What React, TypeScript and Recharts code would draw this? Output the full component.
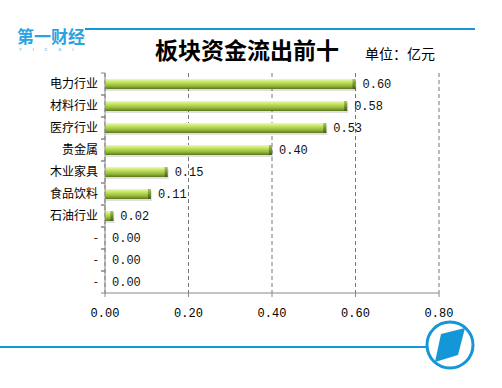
import { BarChart, Bar, XAxis, YAxis, CartesianGrid, LabelList } from 'recharts';

const sectors = ['电力行业', '材料行业', '医疗行业', '贵金属', '木业家具', '食品饮料', '石油行业', '-', '-', '-'];
const outflow = [0.6, 0.58, 0.53, 0.4, 0.15, 0.11, 0.02, 0, 0, 0];
const xTicks = [0, 0.2, 0.4, 0.6, 0.8];

const data = sectors.map((name, i) => ({ id: i, name, value: outflow[i] }));

const ROW = 22;
const BLUE = '#1496d8';

function SectorTick(props: any) {
    const { x, y, payload } = props;
    const axisX = x + 7;
    const label = sectors[payload.value] ?? '';
    return (
        <g>
            <line x1={axisX - 4} x2={axisX} y1={y - ROW / 2} y2={y - ROW / 2} stroke="#888" />
            <line x1={axisX - 4} x2={axisX} y1={y + ROW / 2} y2={y + ROW / 2} stroke="#888" />
            <text x={x} y={y} dy={4} textAnchor="end" fontSize={12} fill="#000" fontFamily="'Noto Sans CJK SC', sans-serif">
                {label}
            </text>
        </g>
    );
}

function TubeBar(props: any) {
    const { x, y, width, height } = props;
    if (!width || width <= 0) return null;
    const cap = Math.min(3, width);
    return (
        <g>
            <rect x={x + 1} y={y + 2} width={width} height={height} fill="rgba(0,0,0,0.12)" />
            <rect x={x} y={y} width={width} height={height} fill="url(#tubeGrad)" />
            <rect x={x + width - cap} y={y} width={cap} height={height} fill="url(#capGrad)" />
        </g>
    );
}

export default function App() {
    return (
        <div style={{ position: 'absolute', left: 0, top: 0, width: 502, height: 388, background: '#fff' }}>
            <svg width={502} height={388} style={{ position: 'absolute', left: 0, top: 0 }}>
                <line x1={85} x2={475} y1={29} y2={29} stroke={BLUE} strokeWidth={2} />
                <text x={17} y={43} fontSize={17} fontWeight="bold" fill="#2aa3e0" fontFamily="'Noto Sans CJK SC', sans-serif">
                    第一财经
                </text>
                <text x={19} y={51} fontSize={4} fill="#2aa3e0" fontFamily="'DejaVu Sans', sans-serif" letterSpacing={11}>
                    YICAI
                </text>
                <text x={247} y={59} textAnchor="middle" fontSize={23} fontWeight="bold" fill="#000" fontFamily="'Noto Sans CJK SC', sans-serif">
                    板块资金流出前十
                </text>
                <text x={365} y={59} fontSize={14} fill="#000" fontFamily="'Noto Sans CJK SC', sans-serif">
                    单位：亿元
                </text>
                <line x1={0} x2={427} y1={347} y2={347} stroke={BLUE} strokeWidth={2} />
                <circle cx={450} cy={345} r={23} fill="#fff" stroke={BLUE} strokeWidth={3} />
                <polygon points="441,334 465,328 458,355 435,362" fill={BLUE} />
            </svg>
            <div style={{ position: 'absolute', left: 0, top: 0 }}>
                <BarChart
                    width={502}
                    height={388}
                    data={data}
                    layout="vertical"
                    margin={{ top: 73, right: 63, bottom: 65, left: 0 }}
                    barCategoryGap={0}
                >
                    <defs>
                        <linearGradient id="tubeGrad" x1="0" y1="0" x2="0" y2="1">
                            <stop offset="0%" stopColor="#eef9b4" />
                            <stop offset="35%" stopColor="#bfe05a" />
                            <stop offset="70%" stopColor="#93b83a" />
                            <stop offset="100%" stopColor="#5c7620" />
                        </linearGradient>
                        <linearGradient id="capGrad" x1="0" y1="0" x2="0" y2="1">
                            <stop offset="0%" stopColor="#a9c65a" />
                            <stop offset="100%" stopColor="#465c14" />
                        </linearGradient>
                    </defs>
                    <CartesianGrid horizontal={false} strokeDasharray="4 3" stroke="#777" />
                    <XAxis
                        type="number"
                        domain={[0, 0.8]}
                        ticks={xTicks}
                        tickFormatter={(v: number) => v.toFixed(2)}
                        stroke="#888"
                        tickSize={4}
                        tickMargin={11}
                        tick={{ fill: '#000', fontSize: 12, fontFamily: "'Liberation Mono', monospace" }}
                        height={30}
                    />
                    <YAxis
                        type="category"
                        dataKey="id"
                        width={105}
                        stroke="#888"
                        tickLine={false}
                        tickSize={4}
                        tickMargin={3}
                        tick={<SectorTick />}
                        interval={0}
                    />
                    <Bar dataKey="value" barSize={10} shape={<TubeBar />} isAnimationActive={false}>
                        <LabelList
                            dataKey="value"
                            position="right"
                            offset={7}
                            formatter={(v: number) => v.toFixed(2)}
                            style={{ fill: '#111', fontSize: 12, fontFamily: "'Liberation Mono', monospace" }}
                        />
                    </Bar>
                </BarChart>
            </div>
        </div>
    );
}
